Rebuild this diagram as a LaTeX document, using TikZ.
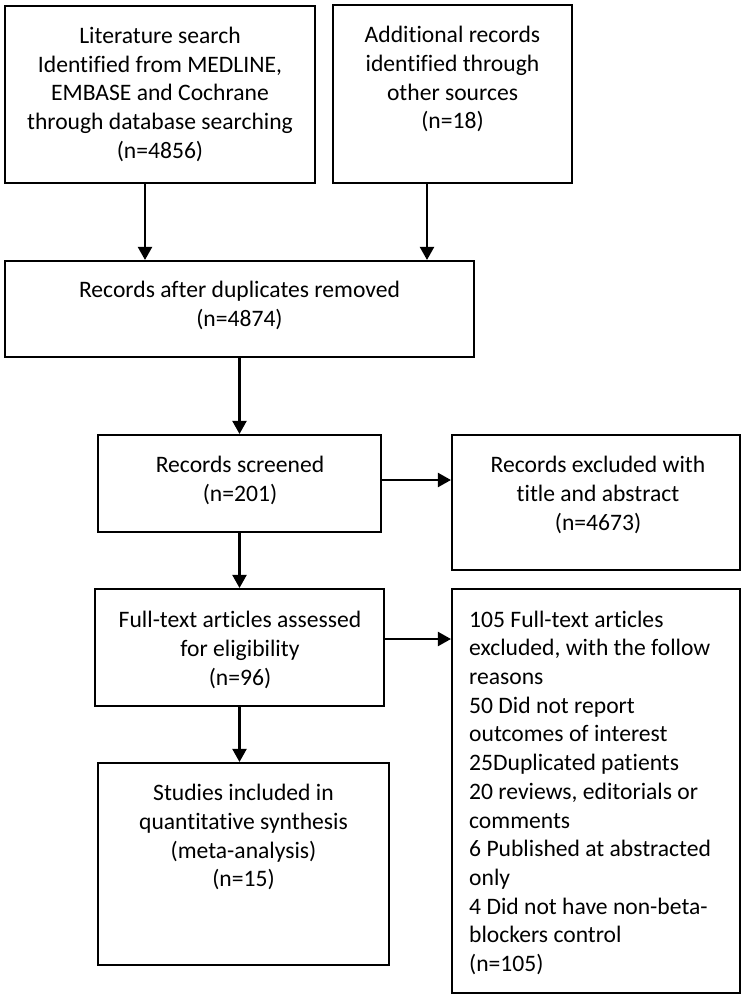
\documentclass[tikz,border=0pt]{standalone}
\usepackage{fontspec}
\setmainfont{Carlito}[Ligatures={NoCommon,NoContextual}, RawFeature={-liga;-clig;-calt;-dlig}]
\usetikzlibrary{arrows.meta}
\newcommand{\flowfont}{\fontsize{23.6pt}{28.7pt}\selectfont}
\tikzset{
  box/.style={draw, line width=2.1pt, inner sep=0pt, fill=none},
  txt/.style={inner sep=0pt, align=center, font=\flowfont},
  txtl/.style={inner sep=0pt, align=left, font=\flowfont},
  arr/.style={line width=2.1pt, -{Triangle[width=14pt,length=13pt]}}
}
\begin{document}
\begin{tikzpicture}[x=1pt,y=-1pt]
\useasboundingbox (0,0) rectangle (747,999);
% boxes
\node[box, minimum width=310pt, minimum height=177pt] (b1) at (160,94.5) {};
\node[box, minimum width=239pt, minimum height=178pt] (b2) at (452.5,94) {};
\node[box, minimum width=469pt, minimum height=96pt] (b3) at (239.5,309) {};
\node[box, minimum width=283pt, minimum height=97pt] (b4) at (239.5,483.5) {};
\node[box, minimum width=288pt, minimum height=135pt] (b5) at (596,502.5) {};
\node[box, minimum width=289pt, minimum height=117pt] (b6) at (239.5,647.5) {};
\node[box, minimum width=291pt, minimum height=202pt] (b7) at (243.5,864) {};
\node[box, minimum width=288pt, minimum height=404pt] (b8) at (596,791) {};
% texts
\node[txt] (t1) at (160,95) {\strut Literature search\\Identified from MEDLINE,\\EMBASE and Cochrane\\through database searching\\(n=4856)\strut};
\node[txt] (t2) at (452.5,80) {\strut Additional records\\identified through\\other sources\\(n=18)\strut};
\node[txt] (t3) at (239.5,306.5) {\strut Records after duplicates removed\\(n=4874)\strut};
\node[txt] (t4) at (240,481.5) {\strut Records screened\\(n=201)\strut};
\node[txt] (t5) at (598,495.6) {\strut Records excluded with\\title and abstract\\(n=4673)\strut};
\node[txt] (t6) at (240,650.6) {\strut Full-text articles assessed\\for eligibility\\(n=96)\strut};
\node[txt] (t7) at (243.5,838) {\strut Studies included in\\quantitative synthesis\\(meta-analysis)\\(n=15)\strut};
\node[txtl, anchor=west] (t8) at (469,793.6) {\strut 105 Full-text articles\\excluded, with the follow\\reasons\\50 Did not report\\outcomes of interest\\25Duplicated patients\\20 reviews, editorials or\\comments\\6 Published at abstracted\\only\\4 Did not have non-beta-\\blockers control\\(n=105)\strut};
% connectors
\coordinate (a1) at ([xshift=-15pt]b1.south);
\coordinate (a2) at ([xshift=-25.5pt]b2.south);
\draw[arr] (a1) -- (a1 |- b3.north);
\draw[arr] (a2) -- (a2 |- b3.north);
\draw[arr] (b3.south) -- (b4.north);
\coordinate (h1) at ([yshift=3.5pt]b4.east);
\draw[arr] (h1) -- (h1 -| b5.west);
\draw[arr] (b4.south) -- (b6.north);
\coordinate (h2) at ([yshift=8.5pt]b6.east);
\draw[arr] (h2) -- (h2 -| b8.west);
\draw[arr] (b6.south) -- (b6.south |- b7.north);
\end{tikzpicture}
\end{document}
